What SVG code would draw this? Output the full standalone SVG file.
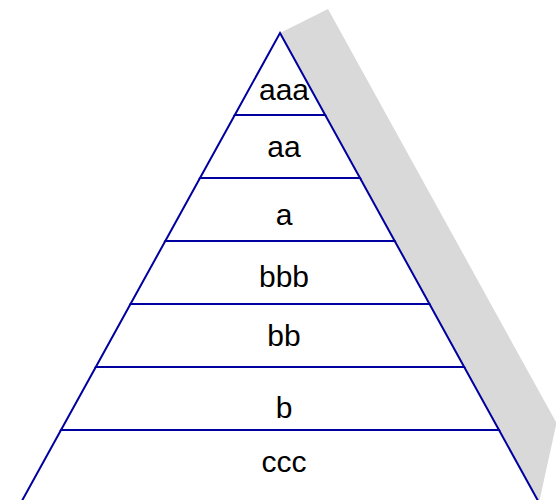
<svg xmlns="http://www.w3.org/2000/svg" width="556" height="500" viewBox="0 0 556 500">
<style>
.tier{fill:#ffffff;stroke:#0000a0;stroke-width:2;stroke-linejoin:miter}
.lbl{font-family:"Liberation Sans",Arial,sans-serif;font-size:30px;fill:#000000;text-anchor:middle}
.shadow{fill:#d9d9d9;stroke:none}
</style>
<rect x="0" y="0" width="556" height="500" fill="#ffffff"/>
<polygon class="shadow" points="280,33 328,9 556.5,423 539.6,500 537.6,500"/>
<g id="tier-aaa"><polygon class="tier" points="280,33 325.2,115 234.8,115"/><text class="lbl" x="284" y="100">aaa</text></g>
<g id="tier-aa"><polygon class="tier" points="234.8,115 325.2,115 360,178 200,178"/><text class="lbl" x="284" y="157">aa</text></g>
<g id="tier-a"><polygon class="tier" points="200,178 360,178 394.7,241 165.3,241"/><text class="lbl" x="284" y="225">a</text></g>
<g id="tier-bbb"><polygon class="tier" points="165.3,241 394.7,241 429.5,304 130.5,304"/><text class="lbl" x="284" y="287">bbb</text></g>
<g id="tier-bb"><polygon class="tier" points="130.5,304 429.5,304 464.2,367 95.8,367"/><text class="lbl" x="284" y="346">bb</text></g>
<g id="tier-b"><polygon class="tier" points="95.8,367 464.2,367 499,430 61,430"/><text class="lbl" x="284" y="418">b</text></g>
<g id="tier-ccc"><polygon class="tier" points="61,430 499,430 543.1,510 16.9,510"/><text class="lbl" x="284" y="472">ccc</text></g>
<g id="connectors"></g>
</svg>
